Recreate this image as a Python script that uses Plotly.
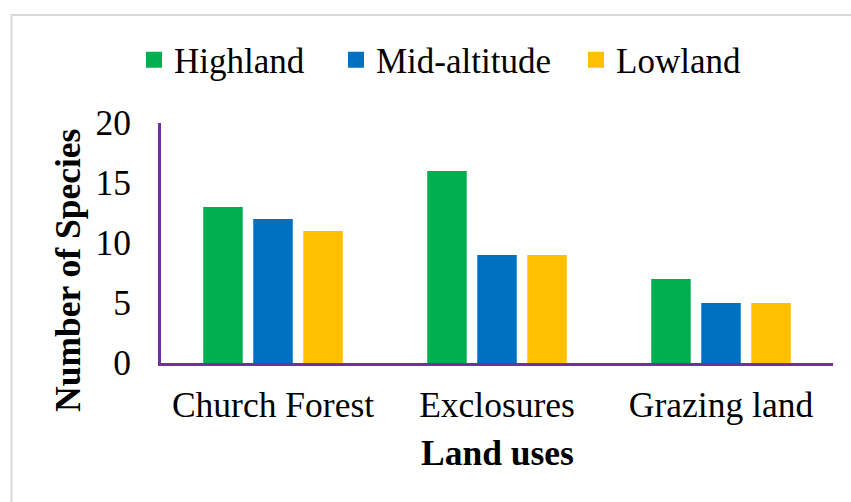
import plotly.graph_objects as go

categories = ["Church Forest", "Exclosures", "Grazing land"]
series_names = ["Highland", "Mid-altitude", "Lowland"]
highland = [13, 16, 7]
mid_altitude = [12, 9, 5]
lowland = [11, 9, 5]
y_ticks = [0, 5, 10, 15, 20]

values = [highland, mid_altitude, lowland]
colors = ["#00B050", "#0070C0", "#FFC000"]
legend_ids = ["legend", "legend2", "legend3"]

W, H = 851, 502
L, R, T, B = 161, 18, 123, 139
PW, PH = W - L - R, H - T - B


def px(x):
    return (x - L) / PW


def py(y):
    return (H - B - y) / PH


FONT = "Liberation Serif"
FS = 35.5
fig = go.Figure()
for name, vals, col, lg in zip(series_names, values, colors, legend_ids):
    fig.add_trace(go.Bar(x=categories, y=vals, name=name, marker_color=col,
                         marker_line_width=0, showlegend=False))
    fig.add_trace(go.Scatter(x=[None], y=[None], mode="markers", name=name,
                             marker=dict(symbol="square", size=16, color=col),
                             legend=lg, showlegend=True))

legend_x = [134, 336, 576]
leg_common = dict(orientation="h", xanchor="left", yanchor="middle",
                  bgcolor="rgba(0,0,0,0)", font=dict(family=FONT, size=35, color="black"))
fig.update_layout(
    legend=dict(x=px(legend_x[0]), y=py(60), **leg_common),
    legend2=dict(x=px(legend_x[1]), y=py(60), **leg_common),
    legend3=dict(x=px(legend_x[2]), y=py(60), **leg_common),
)

fig.update_layout(
    width=W, height=H,
    margin=dict(l=L, r=R, t=T, b=B),
    paper_bgcolor="white", plot_bgcolor="white",
    barmode="group", bargap=0.33, bargroupgap=0.21,
    font=dict(family=FONT, size=FS, color="black"),
    xaxis=dict(showline=True, linecolor="#7030A0", linewidth=3, showgrid=False,
               ticks="", tickfont=dict(family=FONT, size=FS, color="black"),
               ticklabelstandoff=8),
    yaxis=dict(range=[0, 20], tickvals=y_ticks, showline=True, linecolor="#7030A0",
               linewidth=3, showgrid=False, zeroline=False, ticks="",
               tickfont=dict(family=FONT, size=FS, color="black"),
               ticklabelstandoff=20),
    annotations=[
        dict(text="<b>Land uses</b>", xref="paper", yref="paper", x=px(497), y=py(453),
             xanchor="center", yanchor="middle", showarrow=False,
             font=dict(family=FONT, size=FS, color="black")),
        dict(text="<b>Number of Species</b>", xref="paper", yref="paper", x=px(68), y=py(271),
             xanchor="center", yanchor="middle", textangle=-90, showarrow=False,
             font=dict(family=FONT, size=FS, color="black")),
    ],
    shapes=[
        dict(type="rect", xref="paper", yref="paper", x0=px(11.5), y0=py(515),
             x1=px(860), y1=py(15), line=dict(color="#D9D9D9", width=2),
             fillcolor="rgba(0,0,0,0)", layer="below"),
    ],
)

fig.write_html("out.html")
